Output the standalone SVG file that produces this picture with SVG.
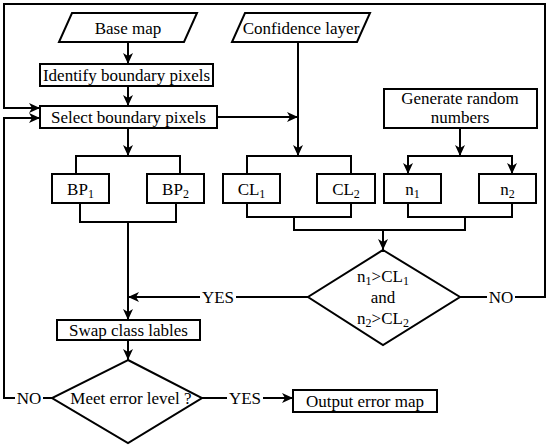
<svg xmlns="http://www.w3.org/2000/svg" width="550" height="447" viewBox="0 0 550 447">
<defs>
<marker id="arr" markerUnits="userSpaceOnUse" markerWidth="12" markerHeight="10" refX="11" refY="5" orient="auto">
<path d="M0,0 L11,5 L0,10 L3,5 Z" fill="#000"/>
</marker>
<style>
.s{fill:#fff;stroke:#000;stroke-width:2}
.c{fill:none;stroke:#000;stroke-width:2}
.a{fill:none;stroke:#000;stroke-width:2;marker-end:url(#arr)}
text{font-family:"Liberation Serif","Times New Roman",serif;font-size:17px;fill:#000;text-anchor:middle}
.sub{font-size:12px}
</style>
</defs>
<rect width="550" height="447" fill="#fff"/>
<g id="connectors">
<path class="a" d="M128,42 V64"/>
<path class="a" d="M128,86 V106"/>
<path class="a" d="M128,128 V156"/>
<path class="c" d="M76,174 V156 H180 V174"/>
<path class="c" d="M80,203 V222 H176 V203"/>
<path class="a" d="M128,222 V320"/>
<path class="a" d="M298,42 V156"/>
<path class="a" d="M217,117 H298"/>
<path class="c" d="M247,174 V156 H351 V174"/>
<path class="c" d="M247,203 V217 H351 V203"/>
<path class="c" d="M294,217 V230 H465 V217"/>
<path class="a" d="M460,128 V156"/>
<path class="a" d="M460,156 H408 V174"/>
<path class="a" d="M460,156 H512 V174"/>
<path class="c" d="M408,203 V217 H512 V203"/>
<path class="a" d="M383,230 V250"/>
<path class="c" d="M308,297 H236"/>
<path class="a" d="M200,297 H128"/>
<path class="c" d="M460,297 H487"/>
<path class="a" d="M515,297 H545 V4 H4 V108 H40"/>
<path class="a" d="M128,340 V360"/>
<path class="c" d="M202,398 H227"/>
<path class="a" d="M263,398 H293"/>
<path class="c" d="M52,398 H43"/>
<path class="a" d="M15,398 H4 V118 H40"/>
<text x="218" y="303">YES</text>
<text x="501" y="303">NO</text>
<text x="245" y="404">YES</text>
<text x="29" y="404">NO</text>
</g>
<g id="basemap"><polygon class="s" points="72,13 197,13 184,42 59,42"/><text x="128" y="34">Base map</text></g>
<g id="confidence"><polygon class="s" points="245,13 370,13 357,42 232,42"/><text x="301" y="34">Confidence layer</text></g>
<g id="identify"><rect class="s" x="40" y="64" width="173" height="22"/><text x="126.5" y="81">Identify boundary pixels</text></g>
<g id="select"><rect class="s" x="40" y="106" width="177" height="22"/><text x="128.5" y="123">Select boundary pixels</text></g>
<g id="generate"><rect class="s" x="384" y="89" width="153" height="39"/><text x="460" y="104">Generate random</text><text x="460" y="123">numbers</text></g>
<g id="bp1"><rect class="s" x="52" y="174" width="57" height="29"/><text x="80.5" y="195">BP<tspan class="sub" dy="3">1</tspan></text></g>
<g id="bp2"><rect class="s" x="147" y="174" width="57" height="29"/><text x="175.5" y="195">BP<tspan class="sub" dy="3">2</tspan></text></g>
<g id="cl1"><rect class="s" x="223" y="174" width="57" height="29"/><text x="251.5" y="195">CL<tspan class="sub" dy="3">1</tspan></text></g>
<g id="cl2"><rect class="s" x="317" y="174" width="58" height="29"/><text x="346" y="195">CL<tspan class="sub" dy="3">2</tspan></text></g>
<g id="n1"><rect class="s" x="384" y="174" width="57" height="29"/><text x="412.5" y="195">n<tspan class="sub" dy="3">1</tspan></text></g>
<g id="n2"><rect class="s" x="479" y="174" width="57" height="29"/><text x="507.5" y="195">n<tspan class="sub" dy="3">2</tspan></text></g>
<g id="check"><polygon class="s" points="383,250 460,297 383,345 308,297"/>
<text x="383" y="282">n<tspan class="sub" dy="3">1</tspan><tspan dy="-3">&gt;CL</tspan><tspan class="sub" dy="3">1</tspan></text>
<text x="383" y="303">and</text>
<text x="383" y="324">n<tspan class="sub" dy="3">2</tspan><tspan dy="-3">&gt;CL</tspan><tspan class="sub" dy="3">2</tspan></text></g>
<g id="swap"><rect class="s" x="57" y="320" width="143" height="20"/><text x="128.5" y="336">Swap class lables</text></g>
<g id="meet"><polygon class="s" points="128,360 202,398 128,443 52,398"/><text x="131" y="404">Meet error level ?</text></g>
<g id="output"><rect class="s" x="293" y="390" width="144" height="22"/><text x="365" y="407">Output error map</text></g>
</svg>
